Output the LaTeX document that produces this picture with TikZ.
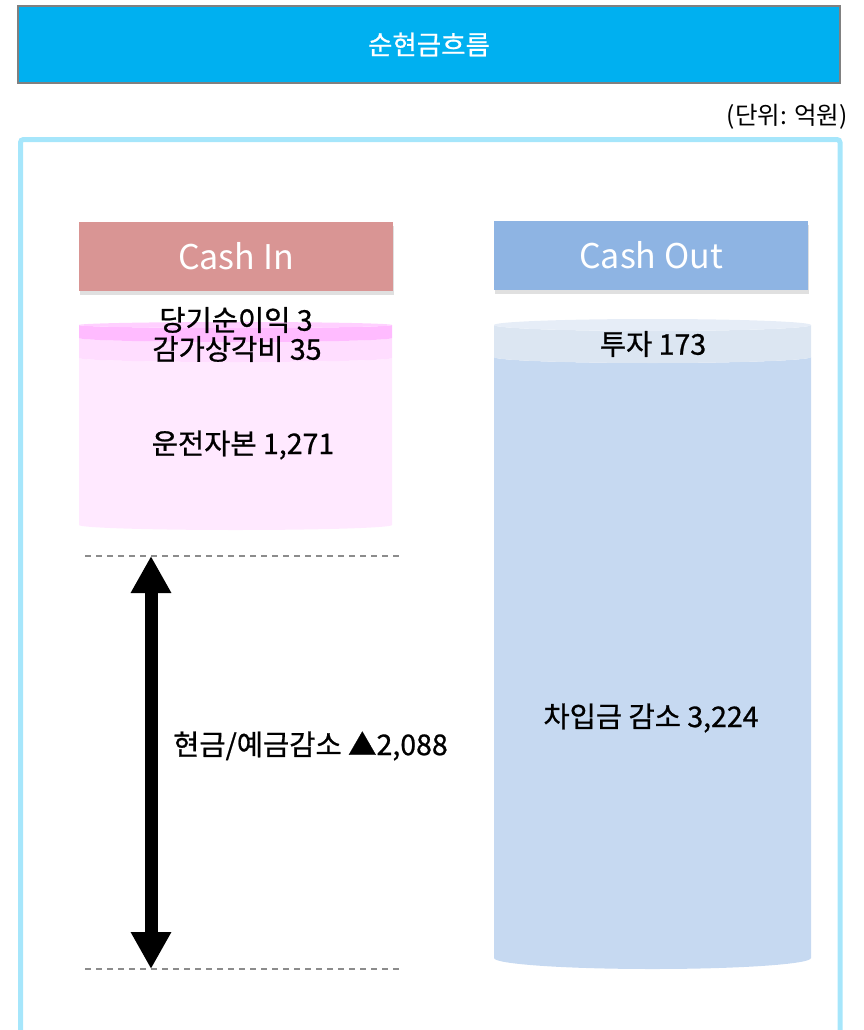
\documentclass[tikz,border=0pt]{standalone}
\usepackage{fontspec}
\setmainfont{Noto Sans CJK KR}
\newfontfamily\labelfont[FakeBold=0.8]{Noto Sans CJK KR}
\usetikzlibrary{arrows.meta,shadows}
\definecolor{titlecol}{HTML}{00B0F0}
\definecolor{framecol}{HTML}{A6E6FB}
\definecolor{cashincol}{HTML}{D99594}
\definecolor{cashoutcol}{HTML}{8EB4E3}
\definecolor{pinkA}{HTML}{FFBBFF}
\definecolor{pinkB}{HTML}{FFDDFF}
\definecolor{pinkC}{HTML}{FFE9FF}
\definecolor{pinkcap}{HTML}{FFCFFF}
\definecolor{blueA}{HTML}{DCE6F2}
\definecolor{blueB}{HTML}{C6D9F1}
\definecolor{bluecap}{HTML}{E6EDF7}

\begin{document}
\begin{tikzpicture}[x=1pt,y=-1pt,
    cashbox/.style={minimum width=314pt,minimum height=69pt,inner sep=0pt,text=white,
      font=\fontsize{34}{40}\selectfont,
      drop shadow={shadow xshift=1pt,shadow yshift=-4pt,fill=black!40,opacity=.3}},
    lbl/.style={inner sep=0pt,font=\labelfont\fontsize{28.5}{33}\selectfont},
    guide/.style={draw=black!45,line width=1.5pt,dash pattern=on 6pt off 5pt}]
          \useasboundingbox (0,0) rectangle (863,1030);
          % title and unit
          \node [fill=titlecol,draw=black!50,line width=1.5pt,minimum width=822pt,minimum height=77pt,
            text=white,font=\labelfont\fontsize{26.5}{31}\selectfont] (title) at (429,44.5) {순현금흐름};
          \node [anchor=east,inner sep=0pt,font=\fontsize{24.5}{29}\selectfont] (unit) at (848,117) {(단위: 억원)};
          \draw [framecol,line width=5pt,rounded corners=3pt](20.5,1040)|-(840,139.5)--(840,1040);
          % headers
          \node [cashbox,fill=cashincol] (cashin) at (236,256.5) {Cash In};
          \node [cashbox,fill=cashoutcol] (cashout) at (651,255.5) {Cash Out};
          % left cylinder
          \fill [pinkC](79,358)--(79,525) arc[start angle=180,end angle=0,x radius=156.5,y radius=5]
            --(392,358) arc[start angle=0,end angle=180,x radius=156.5,y radius=4]--cycle;
          \fill [pinkB](79,338)--(79,358) arc[start angle=180,end angle=0,x radius=156.5,y radius=4]
            --(392,338) arc[start angle=0,end angle=180,x radius=156.5,y radius=4]--cycle;
          \fill [pinkA](79,325)--(79,338) arc[start angle=180,end angle=0,x radius=156.5,y radius=4]
            --(392,325) arc[start angle=0,end angle=180,x radius=156.5,y radius=3]--cycle;
          \fill [pinkcap](235.5,325) ellipse [x radius=156.5,y radius=3];
          % right cylinder
          \fill [blueB](494,357)--(494,958) arc[start angle=180,end angle=0,x radius=158.5,y radius=11]
            --(811,357) arc[start angle=0,end angle=180,x radius=158.5,y radius=6]--cycle;
          \fill [blueA](494,325)--(494,357) arc[start angle=180,end angle=0,x radius=158.5,y radius=6]
            --(811,325) arc[start angle=0,end angle=180,x radius=158.5,y radius=6]--cycle;
          \fill [bluecap](652.5,325) ellipse [x radius=158.5,y radius=6];
          % labels
          \node [lbl] (netinc) at (236,320) {당기순이익 3};
          \node [lbl] (deprec) at (237,349) {감가상각비 35};
          \node [lbl] (wcap) at (243,445) {운전자본 1,271};
          \node [lbl] (invest) at (653,344) {투자 173};
          \node [lbl] (debt) at (651,718) {차입금 감소 3,224};
          % cash decrease
          \coordinate (topL) at (85,556);
          \coordinate (topR) at (402,556);
          \coordinate (botL) at (85,969);
          \coordinate (botR) at (402,969);
          \coordinate (arrtop) at (151,556);
          \coordinate (arrbot) at (151,969);
          \draw [guide](topL)--(topR);
          \draw [guide](botL)--(botR);
          \draw [{Triangle[length=37pt,width=38pt]}-{Triangle[length=37pt,width=38pt]},line width=13pt](arrtop)--(arrbot);
          \node [lbl,anchor=west] (cashdec) at (173,746) {현금/예금감소 ▲2,088};
        
          \end{tikzpicture}
\end{document}
